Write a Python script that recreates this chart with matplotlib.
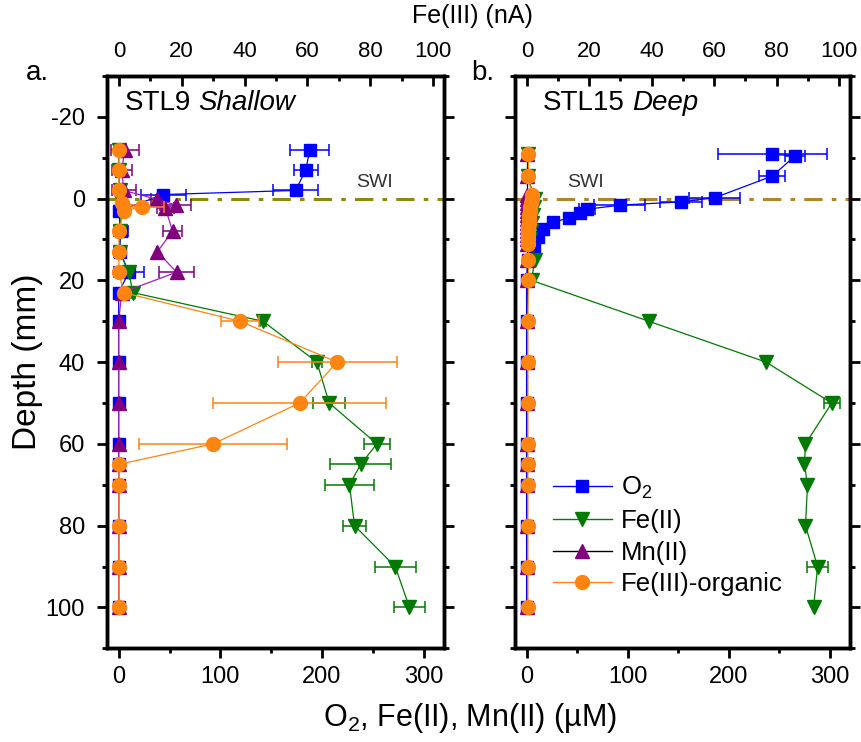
import matplotlib
matplotlib.use('Agg')
import matplotlib.pyplot as plt
from matplotlib.lines import Line2D
from matplotlib.ticker import MultipleLocator

plt.rcParams['font.family'] = ['Liberation Sans', 'DejaVu Sans']
plt.rcParams['mathtext.fontset'] = 'custom'
plt.rcParams['mathtext.rm'] = 'Liberation Sans'
plt.rcParams['axes.unicode_minus'] = False

# ---- STL9 shallow (panel a) ----
o2_a_depth = [-12, -7, -2, -1, 3, 8, 13, 18, 23, 30, 40, 50, 60, 65, 70, 80, 90, 100]
o2_a = [188, 184, 174, 44, 0, 2, 1, 10, 0, 0, 0, 0, 0, 0, 0, 0, 0, 0]
o2_a_err = [19, 12, 22, 22, 3, 7, 6, 15, 0, 0, 0, 0, 0, 0, 0, 0, 0, 0]

fe2_a_depth = [-12, -7, -2, 0.5, 3, 8, 13, 18, 23, 30, 40, 50, 60, 65, 70, 80, 90, 100]
fe2_a = [0, 0, 1, 2, 3, 1, 1, 10, 14, 142, 195, 207, 254, 238, 227, 232, 272, 286]
fe2_a_err = [0, 0, 0, 0, 2, 1, 1, 2, 2, 3, 5, 16, 13, 30, 24, 11, 20, 15]

mn_a_depth = [-12, -7, -2, 0.2, 1.5, 2.3, 8, 13, 18, 23, 30, 40, 50, 60, 65, 70, 80, 90, 100]
mn_a = [6, 3, 5, 38, 56, 46, 53, 38, 57, 3, 0, 0, 0, 0, 0, 0, 0, 0, 0]
mn_a_err = [14, 10, 12, 6, 15, 8, 9, 0, 17, 0, 0, 0, 0, 0, 0, 0, 0, 0, 0]

fe3_a_depth = [-12, -7, -2, 1, 2, 3, 8, 13, 18, 23, 30, 40, 50, 60, 65, 70, 80, 90, 100]
fe3_a = [0, 0, 0, 1, 7.5, 1.5, 0, 0, 0, 1.5, 38.5, 69.5, 57.5, 30, 0, 0, 0, 0, 0]
fe3_a_err = [0, 0, 0, 0, 7, 0, 0, 0, 0, 0, 6, 19, 27.5, 23.5, 0, 0, 0, 0, 0]

# ---- STL15 deep (panel b) ----
o2_b_depth = [-10.8, -10.5, -5.5, -0.2, 0.8, 1.6, 2.6, 3.5, 4.7, 5.8, 7.5, 9.4, 11.5, 15, 20,
              30, 40, 50, 60, 65, 70, 80, 90, 100]
o2_b = [243, 266, 243, 186, 153, 92, 60, 53, 42, 26, 16, 11, 7, 1, 0, 0, 0, 0, 0, 0, 0, 0, 0, 0]
o2_b_err = [54, 10, 13, 25, 21, 25, 8, 3, 2, 2, 2, 2, 2, 1, 0, 0, 0, 0, 0, 0, 0, 0, 0, 0]

fe2_b_depth = [-11, -5.5, 0, 2, 4, 6, 8, 10, 15, 20, 30, 40, 50, 60, 65, 70, 80, 90, 100]
fe2_b = [1, 1, 8, 7, 6, 5, 4, 3, 8, 5, 121, 237, 302, 276, 275, 278, 276, 288, 284]
fe2_b_err = [0, 0, 0, 0, 0, 0, 0, 0, 0, 0, 0, 0, 8, 0, 0, 0, 0, 10, 0]

fine_b_depth = [-11, -5.5, -1, 0, 1, 2, 3, 4, 5, 6, 7, 8, 9, 10, 11, 15, 20,
                30, 40, 50, 60, 65, 70, 80, 90, 100]
mn_b = [0] * 26
fe3_b = [0.5, 0.5, 1.5, 1.5, 1.2, 1, 1, 0.8, 0.8, 0.8, 0.5, 0.5, 0.5, 0.5, 0.5, 0.5, 0.5,
         0.3, 0.3, 0.3, 0.3, 0.3, 0.3, 0.3, 0.3, 0.3]

BLUE = '#0000ff'
GREEN = '#007a00'
PURPLE = '#800080'
ORANGE = '#ff8410'


def series(ax, x, y, err, color, marker, line_color=None, ms=9):
    ax.errorbar(x, y, xerr=err, color=line_color or color, ecolor=color, lw=0.9,
                elinewidth=1.1, capsize=4, capthick=1.1, marker=marker, ms=ms,
                mfc=color, mec=color)


def style(ax, top, show_ylabels):
    for s in ax.spines.values():
        s.set_linewidth(2.5)
    ax.set_xlim(-11.5, 320)
    ax.set_ylim(110, -30)
    ax.xaxis.set_major_locator(MultipleLocator(100))
    ax.xaxis.set_minor_locator(MultipleLocator(50))
    ax.yaxis.set_major_locator(MultipleLocator(20))
    ax.yaxis.set_minor_locator(MultipleLocator(10))
    ax.tick_params(axis='both', which='major', direction='out', length=7, width=2,
                   labelsize=17, pad=6)
    ax.tick_params(axis='both', which='minor', direction='out', length=3.5, width=2)
    ax.tick_params(axis='y', which='both', right=True, pad=9)
    ax.tick_params(axis='x', which='both', top=False)
    if not show_ylabels:
        ax.tick_params(axis='y', labelleft=False)
    top.set_xlim(-3.8, 103.5)
    top.xaxis.set_major_locator(MultipleLocator(20))
    top.xaxis.set_minor_locator(MultipleLocator(10))
    top.tick_params(axis='x', which='major', direction='in', length=7, width=2,
                    labelsize=16, pad=10)
    top.tick_params(axis='x', which='minor', direction='in', length=3.5, width=2)
    top.tick_params(axis='y', which='both', left=False, right=False,
                    labelleft=False, labelright=False)
    for s in top.spines.values():
        s.set_linewidth(2.5)


def panel_title(ax, x, name, kind):
    t = ax.text(x, 0.953, name, transform=ax.transAxes, fontsize=20, va='center')
    ax.annotate(kind, xy=(1, 0), xycoords=t, xytext=(5, 0), textcoords='offset points',
                fontsize=20, va='bottom', style='italic')


fig = plt.figure(figsize=(8.62, 7.42), dpi=100)
ax1 = fig.add_axes([0.1241, 0.1263, 0.391, 0.7713])
ax2 = fig.add_axes([0.5974, 0.1263, 0.3886, 0.7713])
top1 = ax1.twiny()
top2 = ax2.twiny()

# panel a
ax1.axhline(0, color='#8a8a10', lw=2.2, ls=(0, (6, 3, 1.5, 3)))
series(ax1, o2_a, o2_a_depth, o2_a_err, BLUE, 's', ms=8.5)
series(ax1, fe2_a, fe2_a_depth, fe2_a_err, GREEN, 'v', ms=10)
series(ax1, mn_a, mn_a_depth, mn_a_err, PURPLE, '^', line_color='#a020c0', ms=10)
series(top1, fe3_a, fe3_a_depth, fe3_a_err, ORANGE, 'o', ms=10)

# panel b
ax2.axhline(0, color='#b0862a', lw=2.2, ls=(0, (6, 3, 1.5, 3)))
series(ax2, o2_b, o2_b_depth, o2_b_err, BLUE, 's', ms=8.5)
series(ax2, fe2_b, fe2_b_depth, fe2_b_err, GREEN, 'v', ms=10)
series(ax2, mn_b, fine_b_depth, None, PURPLE, '^', line_color='black', ms=10)
series(top2, fe3_b, fine_b_depth, None, ORANGE, 'o', ms=10)

style(ax1, top1, True)
style(ax2, top2, False)

ax1.set_ylabel('Depth (mm)', fontsize=24, labelpad=2)

panel_title(ax1, 0.053, 'STL9', 'Shallow')
panel_title(ax2, 0.084, 'STL15', 'Deep')
ax1.text(252, -4, 'SWI', fontsize=14, color='#333333', ha='center', va='center')
ax2.text(58, -4, 'SWI', fontsize=14, color='#333333', ha='center', va='center')

fig.text(37 / 862, 1 - 73 / 742, 'a.', fontsize=20, ha='center', va='center')
fig.text(483 / 862, 1 - 73 / 742, 'b.', fontsize=20, ha='center', va='center')
fig.text(472 / 862, 1 - 16 / 742, 'Fe(III) (nA)', fontsize=18, ha='center', va='center')
fig.text(470 / 862, 1 - 718 / 742, 'O$_2$, Fe(II), Mn(II) (\u00b5M)', fontsize=22,
         ha='center', va='center')

handles = [
    Line2D([], [], color=BLUE, lw=1, marker='s', ms=9, mfc=BLUE, mec=BLUE),
    Line2D([], [], color=GREEN, lw=1, marker='v', ms=10, mfc=GREEN, mec=GREEN),
    Line2D([], [], color='black', lw=1, marker='^', ms=10, mfc=PURPLE, mec=PURPLE),
    Line2D([], [], color=ORANGE, lw=1, marker='o', ms=10, mfc=ORANGE, mec=ORANGE),
]
labels = ['O$_2$', 'Fe(II)', 'Mn(II)', 'Fe(III)-organic']
top2.legend(handles, labels, loc='upper left', bbox_to_anchor=(540 / 862, 1 - 462 / 742),
            bbox_transform=fig.transFigure, frameon=False, fontsize=18.5,
            handlelength=2.3, handletextpad=0.35, labelspacing=0.3, borderpad=0)

fig.savefig('out.png', dpi=100)
